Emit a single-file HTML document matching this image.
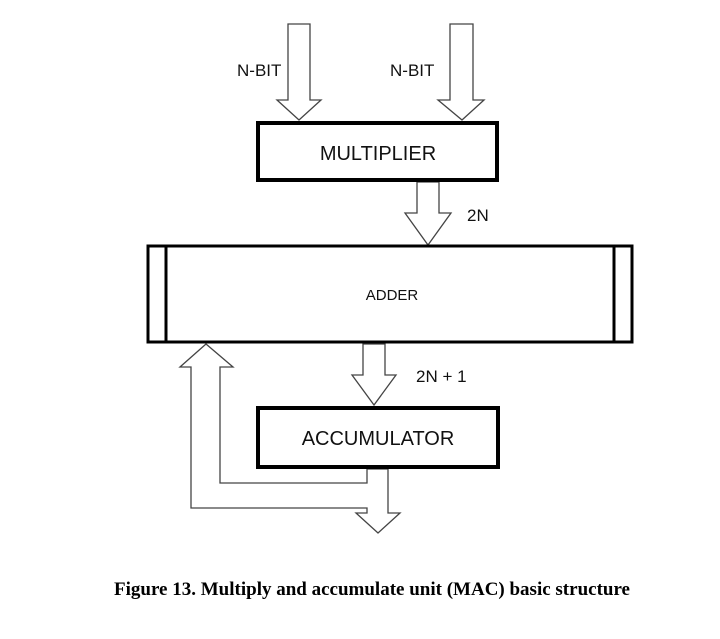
<!DOCTYPE html>
<html><head><meta charset="utf-8"><style>
body{margin:0;background:#fff;width:720px;height:634px;overflow:hidden}
</style></head><body>
<svg width="720" height="634" viewBox="0 0 720 634" xmlns="http://www.w3.org/2000/svg">
<g fill="#fff" stroke="#444" stroke-width="1.3">
<polygon points="288,24 310,24 310,100 321,100 299,120 277,100 288,100"/>
<polygon points="450,24 473,24 473,100 484,100 462,120 438,100 450,100"/>
<polygon points="417,182 439,182 439,213 451,213 428,245 405,213 417,213"/>
<polygon points="363,344 385,344 385,375 396,375 374,405 352,375 363,375"/>
<polygon points="206,344 233,367 220,367 220,483 367,483 367,469 388,469 388,513 400,513 378,533 356,513 367,513 367,508 191,508 191,367 180,367"/>
</g>
<rect x="258" y="123" width="239" height="57" fill="#fff" stroke="#000" stroke-width="4"/>
<rect x="148" y="246" width="484" height="96" fill="#fff" stroke="#000" stroke-width="3"/>
<line x1="166" y1="246" x2="166" y2="342" stroke="#000" stroke-width="3"/>
<line x1="614" y1="246" x2="614" y2="342" stroke="#000" stroke-width="3"/>
<rect x="258" y="408" width="240" height="59" fill="#fff" stroke="#000" stroke-width="4"/>
<g font-family="Liberation Sans, sans-serif" fill="#111">
<text x="237" y="76" font-size="17">N-BIT</text>
<text x="390" y="76" font-size="17">N-BIT</text>
<text x="378" y="160" font-size="20" text-anchor="middle">MULTIPLIER</text>
<text x="467" y="221" font-size="17">2N</text>
<text x="392" y="300" font-size="15" text-anchor="middle">ADDER</text>
<text x="416" y="382" font-size="17">2N + 1</text>
<text x="378" y="445" font-size="20" text-anchor="middle">ACCUMULATOR</text>
</g>
<text x="372" y="595" font-family="Liberation Serif, serif" font-weight="bold" font-size="19" text-anchor="middle" fill="#000">Figure 13. Multiply and accumulate unit (MAC) basic structure</text>
</svg>
</body></html>
